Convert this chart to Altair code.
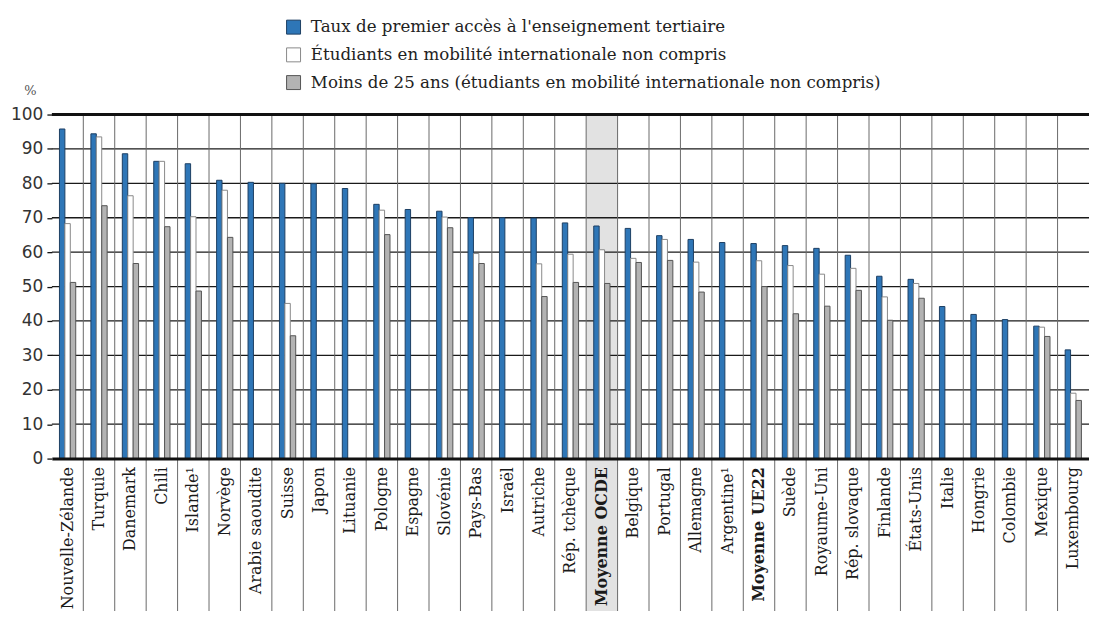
import altair as alt
import pandas as pd

categories = ["Nouvelle-Zélande", "Turquie", "Danemark", "Chili", "Islande¹", "Norvège",
              "Arabie saoudite", "Suisse", "Japon", "Lituanie", "Pologne", "Espagne",
              "Slovénie", "Pays-Bas", "Israël", "Autriche", "Rép. tchèque", "Moyenne OCDE",
              "Belgique", "Portugal", "Allemagne", "Argentine¹", "Moyenne UE22", "Suède",
              "Royaume-Uni", "Rép. slovaque", "Finlande", "États-Unis", "Italie", "Hongrie",
              "Colombie", "Mexique", "Luxembourg"]
taux = [95.8, 94.4, 88.6, 86.4, 85.7, 80.9, 80.3, 80.0, 79.9, 78.5, 73.9, 72.4, 71.9, 70.0,
        70.0, 69.9, 68.5, 67.6, 66.9, 64.8, 63.7, 62.8, 62.5, 61.9, 61.1, 59.1, 53.0, 52.1,
        44.2, 41.9, 40.4, 38.5, 31.6]
sans_mobilite = [68.3, 93.5, 76.4, 86.4, 70.3, 78.0, None, 45.1, None, None, 72.2, None, 70.2,
                 59.6, None, 56.6, 59.4, 60.7, 58.2, 63.7, 57.1, None, 57.5, 56.1, 53.6, 55.3,
                 47.0, 50.9, None, None, None, 38.2, 19.0]
moins25 = [51.2, 73.5, 56.7, 67.4, 48.7, 64.3, None, 35.7, None, None, 65.1, None, 67.1, 56.7,
           None, 47.1, 51.2, 50.9, 57.0, 57.6, 48.4, None, 50.0, 42.1, 44.3, 48.9, 40.2, 46.6,
           None, None, None, 35.5, 16.9]
series = ["Taux de premier accès à l'enseignement tertiaire",
          "Étudiants en mobilité internationale non compris",
          "Moins de 25 ans (étudiants en mobilité internationale non compris)"]
grid_values = [10, 20, 30, 40, 50, 60, 70, 80, 90]

rows = []
for s, vals in zip(series, [taux, sans_mobilite, moins25]):
    for c, v in zip(categories, vals):
        if v is not None:
            rows.append({"pays": c, "serie": s, "valeur": v})
df = pd.DataFrame(rows)

W, H = 1040, 345
SERIF = "DejaVu Serif"
SANS = "DejaVu Sans"

xscale = alt.Scale(domain=categories, paddingInner=0, paddingOuter=0)
yscale = alt.Scale(domain=[0, 100])
offset_domain = ["_g"] + series + ["_d"]

xaxis = alt.Axis(title=None, labelAngle=-90, labelAlign="right", labelBaseline="middle",
                 labelPadding=8, labelFont=SERIF, labelFontSize=16, labelColor="#1a1a1a",
                 labelFontWeight=alt.ExprRef("indexof(datum.value, 'Moyenne') == 0 ? 'bold' : 'normal'"),
                 ticks=False, domain=True, domainColor="#111", domainWidth=3, grid=False,
                 zindex=1, labelOverlap=False, labelLimit=300)
yaxis = alt.Axis(title="%", titleAngle=0, titleX=-22, titleY=-24, titleAlign="center",
                 titleBaseline="middle", titleFont=SERIF, titleFontSize=13,
                 titleFontWeight="normal", titleColor="#555",
                 values=[0, 10, 20, 30, 40, 50, 60, 70, 80, 90, 100], grid=False,
                 domain=False, ticks=True, tickSize=5, tickColor="#111", tickWidth=1.3,
                 labelFont=SANS, labelFontSize=17, labelColor="#333", labelPadding=4)

shade = alt.Chart(pd.DataFrame({"pays": ["Moyenne OCDE"]})).mark_rect(color="#e2e2e2").encode(
    x=alt.X("pays:N", scale=xscale, axis=xaxis),
    y=alt.value(0), y2=alt.value(H + 200))

hgrid = alt.Chart(pd.DataFrame({"valeur": grid_values})).mark_rule(
    color="#1a1a1a", strokeWidth=1.3).encode(
    y=alt.Y("valeur:Q", scale=yscale, axis=yaxis),
    x=alt.value(0), x2=alt.value(W))

seps = alt.Chart(pd.DataFrame({"pays": categories[1:]})).mark_rule(
    color="#6a6a6a", strokeWidth=1).encode(
    x=alt.X("pays:N", scale=xscale, axis=xaxis, bandPosition=0),
    y=alt.value(0), y2=alt.value(H + 200))

legend = alt.Legend(title=None, orient="none", legendX=234, legendY=-96,
                    direction="vertical", symbolType="square", symbolSize=196,
                    symbolStrokeColor="#333", symbolStrokeWidth=1,
                    labelFont=SERIF, labelFontSize=16.7, labelColor="#222",
                    labelOffset=9, rowPadding=8.8, labelLimit=900)

bars = alt.Chart(df).mark_bar(strokeWidth=1).encode(
    x=alt.X("pays:N", scale=xscale, axis=xaxis),
    xOffset=alt.XOffset("serie:N",
                        scale=alt.Scale(domain=offset_domain, paddingInner=0, paddingOuter=0.4)),
    y=alt.Y("valeur:Q", scale=yscale, axis=yaxis),
    fill=alt.Fill("serie:N", scale=alt.Scale(domain=series, range=["#2e76b7", "#ffffff", "#b3b3b3"]),
                  legend=legend),
    stroke=alt.Stroke("serie:N", scale=alt.Scale(domain=series, range=["#1d3f63", "#8a8a8a", "#555555"]),
                      legend=None),
)

top = alt.Chart(pd.DataFrame({"valeur": [100]})).mark_rule(color="#111", strokeWidth=3).encode(
    y=alt.Y("valeur:Q", scale=yscale, axis=yaxis),
    x=alt.value(0), x2=alt.value(W))

chart = alt.layer(shade, hgrid, seps, bars, top).properties(
    width=W, height=H,
    padding={"left": 44, "top": 106, "right": 0, "bottom": 152},
    autosize=alt.AutoSizeParams(type="none"),
).configure(font=SERIF).configure_view(stroke=None).configure_legend(
    labelFont=SERIF, labelFontSize=16.7)

chart.save("out.html", embed_options={"renderer": "svg", "actions": False})
